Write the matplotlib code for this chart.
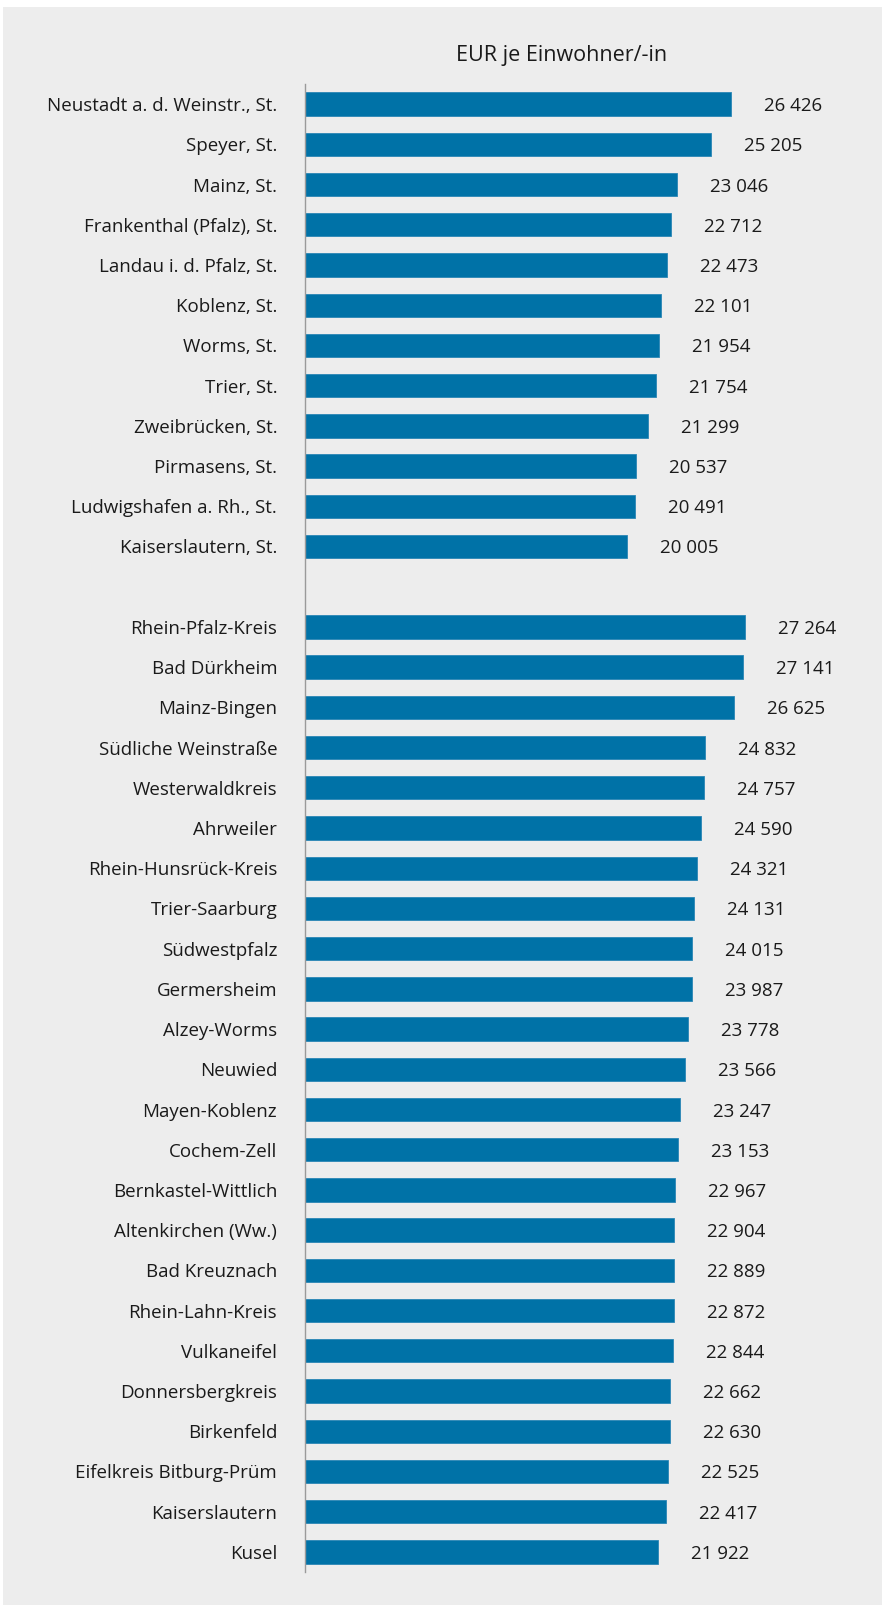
import matplotlib.pyplot as plt
from matplotlib.patches import Rectangle

# Kreisfreie Städte
staedte = [
    "Neustadt a. d. Weinstr., St.", "Speyer, St.", "Mainz, St.",
    "Frankenthal (Pfalz), St.", "Landau i. d. Pfalz, St.", "Koblenz, St.",
    "Worms, St.", "Trier, St.", "Zweibrücken, St.", "Pirmasens, St.",
    "Ludwigshafen a. Rh., St.", "Kaiserslautern, St.",
]
staedte_werte = [26426, 25205, 23046, 22712, 22473, 22101,
                 21954, 21754, 21299, 20537, 20491, 20005]

# Landkreise
kreise = [
    "Rhein-Pfalz-Kreis", "Bad Dürkheim", "Mainz-Bingen", "Südliche Weinstraße",
    "Westerwaldkreis", "Ahrweiler", "Rhein-Hunsrück-Kreis", "Trier-Saarburg",
    "Südwestpfalz", "Germersheim", "Alzey-Worms", "Neuwied", "Mayen-Koblenz",
    "Cochem-Zell", "Bernkastel-Wittlich", "Altenkirchen (Ww.)", "Bad Kreuznach",
    "Rhein-Lahn-Kreis", "Vulkaneifel", "Donnersbergkreis", "Birkenfeld",
    "Eifelkreis Bitburg-Prüm", "Kaiserslautern", "Kusel",
]
kreise_werte = [27264, 27141, 26625, 24832, 24757, 24590, 24321, 24131,
                24015, 23987, 23778, 23566, 23247, 23153, 22967, 22904,
                22889, 22872, 22844, 22662, 22630, 22525, 22417, 21922]

titel = "EUR je Einwohner/-in"

plt.rcParams['font.family'] = ['Open Sans', 'DejaVu Sans']

W, H = 886, 1605
bg = '#ededed'
fig = plt.figure(figsize=(W / 100, H / 100), dpi=100, facecolor='white')
fig.patches.append(Rectangle((3 / W, 0), 879 / W, 1598 / H,
                             transform=fig.transFigure, facecolor=bg,
                             edgecolor='none', zorder=-5))

# one blank slot between the two groups
labels = staedte + [""] + kreise
werte = staedte_werte + [None] + kreise_werte
n = len(labels)

ax_top, ax_bottom = 84, 1572
ax = fig.add_axes([305 / W, 1 - ax_bottom / H, 540 / W, (ax_bottom - ax_top) / H])
ax.set_facecolor('none')

xmax = 540 / (426 / 26426)
for i, v in enumerate(werte):
    if v is None:
        continue
    ax.barh(i, v, height=0.58, color='#0072a7', edgecolor='#2a86b5', linewidth=0.6)
    ax.annotate(f"{v:,}".replace(",", " "), (v, i), xytext=(33, -2),
                textcoords='offset pixels', va='center', ha='left',
                fontsize=13.5, color='#1a1a1a')

ax.set_xlim(0, xmax)
ax.set_ylim(n - 0.5, -0.5)
ax.set_yticks(range(n))
ax.set_yticklabels(labels, fontsize=13.5, color='#1a1a1a')
ax.tick_params(axis='y', length=0, pad=20)
ax.set_xticks([])
for s in ['top', 'right', 'bottom']:
    ax.spines[s].set_visible(False)
ax.spines['left'].set_color('#9a9a9a')
ax.spines['left'].set_linewidth(1)

fig.text(562 / W, 1 - 55 / H, titel, ha='center', va='center',
         fontsize=15.5, color='#1a1a1a')

fig.savefig('out.png', dpi=100, facecolor=fig.get_facecolor())
